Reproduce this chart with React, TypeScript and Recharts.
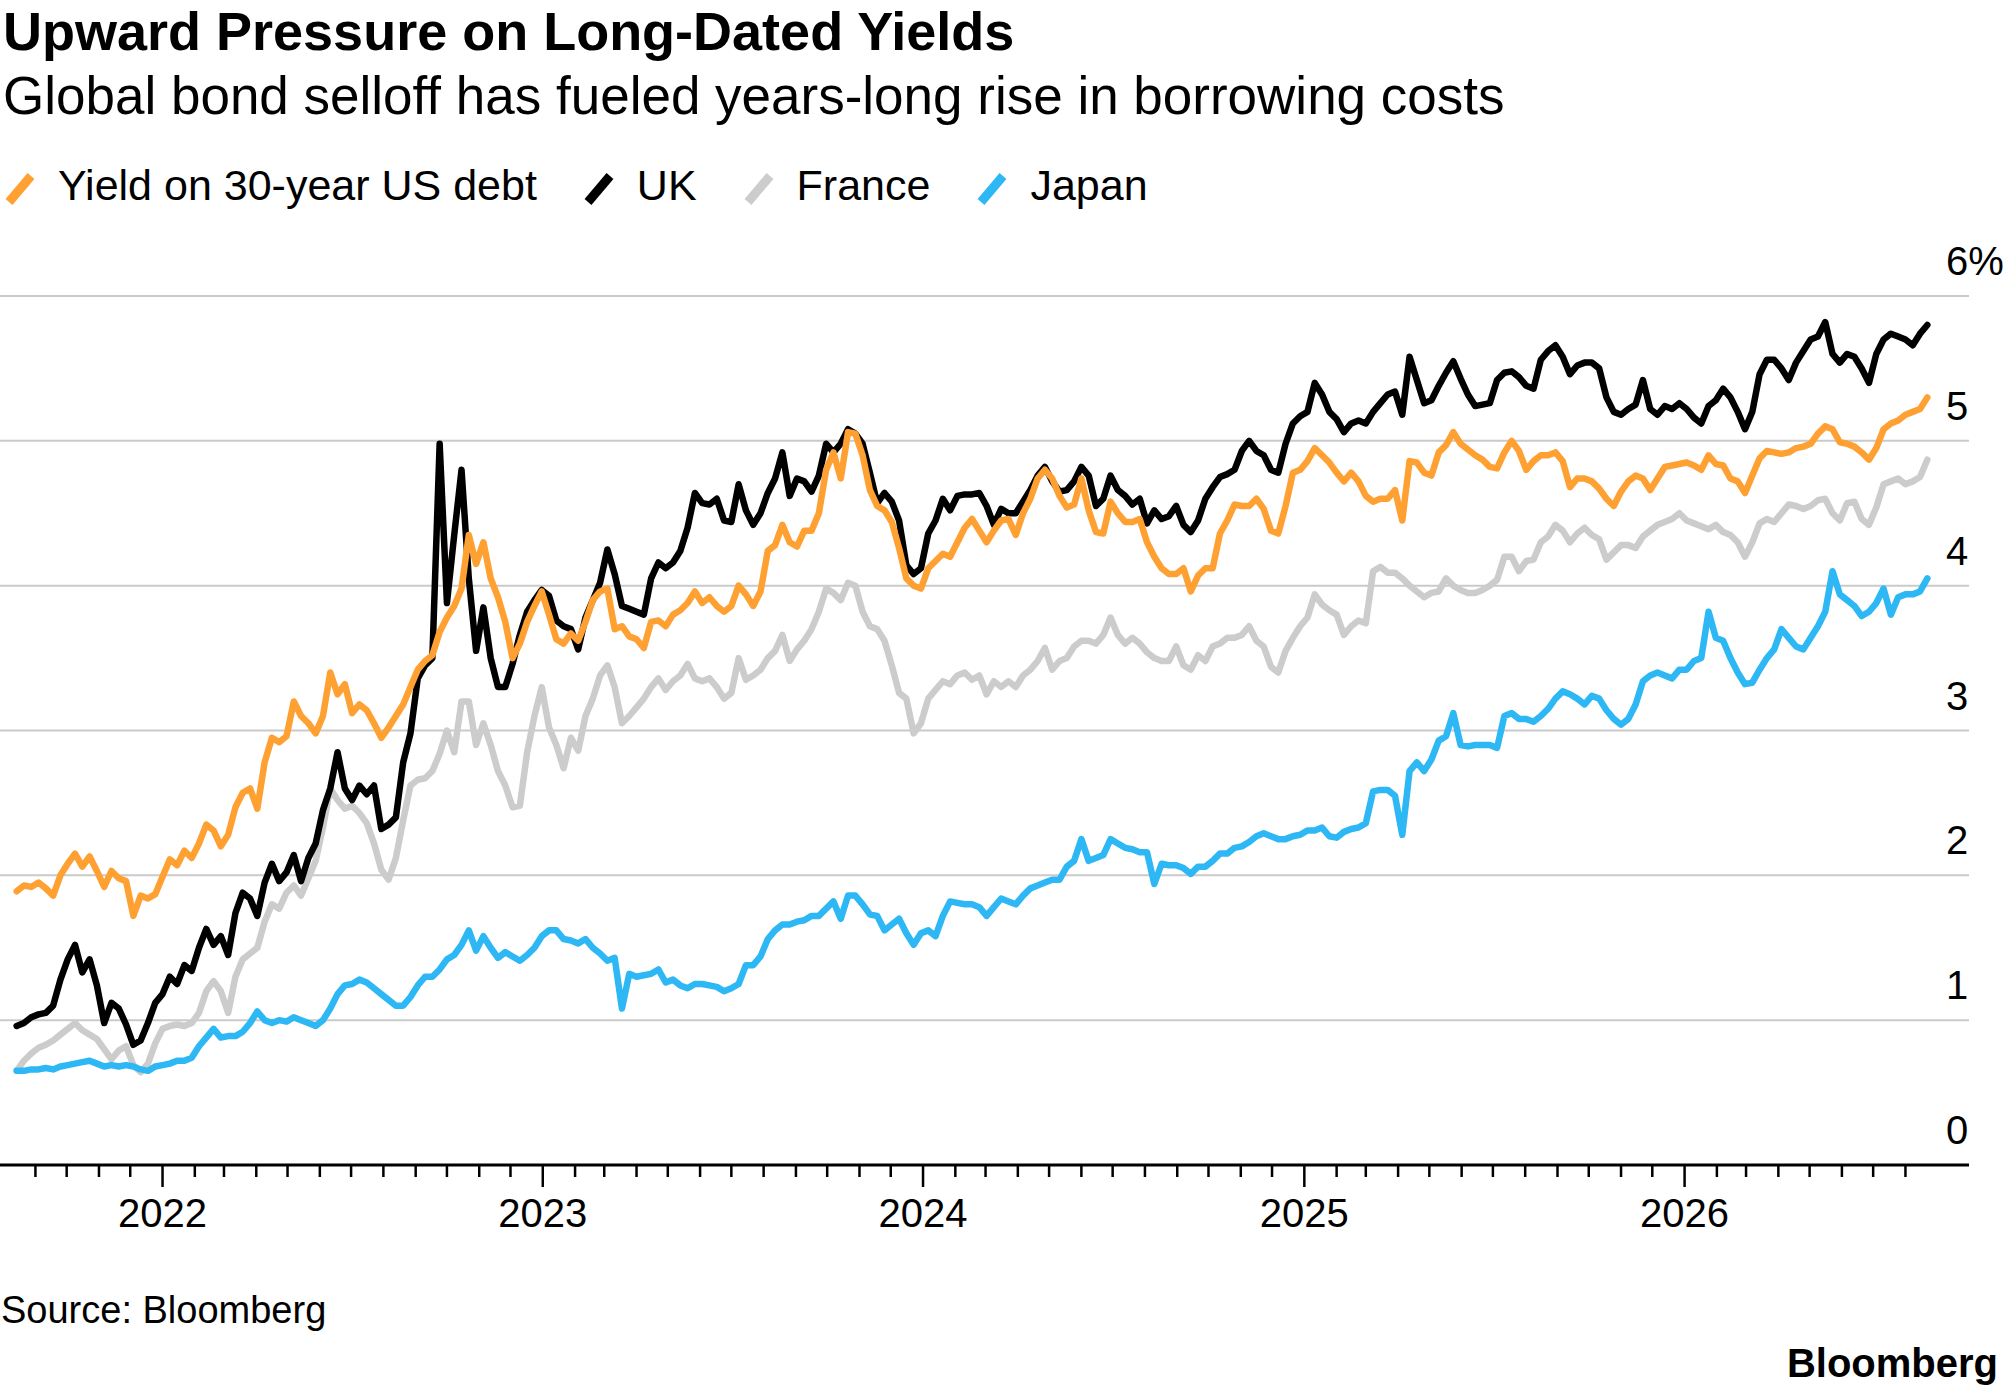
import React from 'react';
import { LineChart, Line, XAxis, YAxis, CartesianGrid } from 'recharts';

const FONT = '"Liberation Sans", Arial, Helvetica, sans-serif';

// weekly readings, the first one dated 2021-08-14
const FIRST_DAY = Date.UTC(2021, 7, 14);
const DAY = 86400000;

const usYield = [
  1.89, 1.93, 1.92, 1.95, 1.91, 1.86, 2.0, 2.08, 2.15, 2.06,
  2.13, 2.03, 1.92, 2.03, 1.98, 1.96, 1.72, 1.86, 1.84, 1.87,
  1.99, 2.11, 2.07, 2.17, 2.12, 2.22, 2.35, 2.31, 2.2, 2.28,
  2.47, 2.57, 2.6, 2.46, 2.78, 2.95, 2.92, 2.96, 3.2, 3.1,
  3.05, 2.98, 3.1, 3.4, 3.25, 3.32, 3.12, 3.18, 3.14, 3.05,
  2.95, 3.02, 3.1, 3.18, 3.3, 3.42, 3.48, 3.52, 3.68, 3.78,
  3.86, 3.98, 4.35, 4.15, 4.3, 4.05, 3.92, 3.75, 3.5, 3.6,
  3.75, 3.86, 3.96, 3.8, 3.63, 3.6, 3.67, 3.62, 3.75, 3.9,
  3.96, 3.98, 3.7, 3.72, 3.65, 3.63, 3.57, 3.75, 3.76, 3.72,
  3.8, 3.83, 3.88, 3.96, 3.88, 3.92, 3.86, 3.82, 3.86, 4.0,
  3.94, 3.86, 3.96, 4.24, 4.28, 4.42, 4.3, 4.27, 4.38, 4.38,
  4.5, 4.8, 4.92, 4.74, 5.06, 5.05, 4.9, 4.66, 4.55, 4.52,
  4.44, 4.26, 4.05, 4.0, 3.98, 4.12, 4.17, 4.22, 4.2, 4.3,
  4.4, 4.46, 4.38, 4.3, 4.38, 4.45, 4.46, 4.35, 4.5, 4.6,
  4.74, 4.8, 4.74, 4.62, 4.54, 4.56, 4.74, 4.52, 4.37, 4.36,
  4.58, 4.5, 4.44, 4.44, 4.46, 4.3, 4.2, 4.12, 4.08, 4.08,
  4.12, 3.96, 4.07, 4.12, 4.12, 4.36, 4.45, 4.56, 4.55, 4.55,
  4.6, 4.53, 4.38, 4.36, 4.55, 4.78, 4.8, 4.86, 4.95, 4.9,
  4.85, 4.78, 4.72, 4.78, 4.72, 4.62, 4.58, 4.6, 4.6, 4.66,
  4.45, 4.86, 4.85, 4.78, 4.76, 4.92, 4.97, 5.06, 4.98, 4.94,
  4.9, 4.87, 4.82, 4.81, 4.92, 5.0, 4.93, 4.8, 4.86, 4.9,
  4.9, 4.92, 4.86, 4.68, 4.74, 4.74, 4.72, 4.67, 4.6, 4.55,
  4.65, 4.72, 4.76, 4.74, 4.66, 4.74, 4.82, 4.83, 4.84, 4.85,
  4.83, 4.8, 4.9, 4.84, 4.83, 4.74, 4.72, 4.64, 4.76, 4.88,
  4.93, 4.92, 4.91, 4.92, 4.95, 4.96, 4.98, 5.05, 5.1, 5.08,
  4.99, 4.98, 4.96, 4.92, 4.87, 4.95, 5.08, 5.12, 5.14, 5.18,
  5.2, 5.22, 5.3,
];

const ukYield = [
  0.96, 0.98, 1.02, 1.04, 1.05, 1.1, 1.28, 1.42, 1.52, 1.33,
  1.42, 1.24, 0.98, 1.12, 1.08, 0.97, 0.83, 0.86, 0.98, 1.12,
  1.18, 1.3, 1.25, 1.38, 1.34, 1.5, 1.63, 1.52, 1.58, 1.45,
  1.74, 1.88, 1.84, 1.72, 1.95, 2.08, 1.96, 2.02, 2.14, 1.96,
  2.12, 2.22, 2.45, 2.6, 2.85, 2.6, 2.52, 2.62, 2.56, 2.62,
  2.32, 2.35, 2.4, 2.78, 2.98, 3.36, 3.45, 3.5, 4.98, 3.88,
  4.35, 4.8, 4.05, 3.55, 3.85, 3.5, 3.3, 3.3, 3.46, 3.66,
  3.82, 3.9, 3.97, 3.93, 3.76, 3.72, 3.7, 3.56, 3.78, 3.9,
  4.02, 4.25, 4.08, 3.86, 3.84, 3.82, 3.8, 4.05, 4.16, 4.12,
  4.16, 4.24, 4.4, 4.64, 4.57, 4.56, 4.6, 4.45, 4.44, 4.7,
  4.52, 4.42, 4.5, 4.64, 4.74, 4.92, 4.62, 4.74, 4.72, 4.65,
  4.76, 4.98, 4.92, 4.98, 5.08, 5.05, 4.98, 4.78, 4.57, 4.64,
  4.58, 4.45, 4.14, 4.08, 4.12, 4.36, 4.45, 4.6, 4.52, 4.62,
  4.63, 4.63, 4.64, 4.55, 4.42, 4.53, 4.5, 4.5, 4.58, 4.66,
  4.76, 4.82, 4.72, 4.65, 4.66, 4.72, 4.82, 4.76, 4.55, 4.6,
  4.76, 4.66, 4.62, 4.56, 4.6, 4.43, 4.52, 4.46, 4.48, 4.55,
  4.42, 4.37, 4.45, 4.6, 4.68, 4.75, 4.77, 4.8, 4.93, 5.0,
  4.93, 4.9, 4.8, 4.78, 4.98, 5.12, 5.17, 5.2, 5.4, 5.32,
  5.2, 5.15, 5.06, 5.12, 5.14, 5.12, 5.2, 5.26, 5.32, 5.34,
  5.18, 5.58, 5.42, 5.26, 5.28, 5.38, 5.47, 5.55, 5.43, 5.32,
  5.24, 5.25, 5.26, 5.42, 5.47, 5.48, 5.44, 5.38, 5.36, 5.56,
  5.62, 5.66, 5.58, 5.46, 5.52, 5.54, 5.54, 5.5, 5.3, 5.2,
  5.18, 5.22, 5.25, 5.42, 5.22, 5.18, 5.24, 5.22, 5.26, 5.22,
  5.16, 5.12, 5.24, 5.28, 5.36, 5.3, 5.2, 5.08, 5.2, 5.46,
  5.56, 5.56, 5.5, 5.42, 5.54, 5.62, 5.7, 5.72, 5.82, 5.6,
  5.54, 5.6, 5.58, 5.5, 5.4, 5.6, 5.7, 5.74, 5.72, 5.7,
  5.66, 5.74, 5.8,
];

const franceYield = [
  0.65, 0.72, 0.77, 0.81, 0.83, 0.86, 0.9, 0.94, 0.98, 0.93,
  0.9, 0.87, 0.8, 0.73, 0.79, 0.82, 0.69, 0.64, 0.7, 0.84,
  0.94, 0.96, 0.97, 0.96, 0.98, 1.05, 1.2, 1.27, 1.2, 1.05,
  1.3, 1.42, 1.46, 1.5, 1.68, 1.8, 1.77, 1.88, 1.93, 1.86,
  1.98, 2.1, 2.33, 2.6, 2.52, 2.46, 2.48, 2.43, 2.36, 2.22,
  2.04, 1.97, 2.12, 2.38, 2.62, 2.66, 2.67, 2.72, 2.84, 3.0,
  2.85, 3.2, 3.2, 2.9, 3.05, 2.9, 2.72, 2.62, 2.47, 2.48,
  2.85, 3.1, 3.3, 3.02, 2.9, 2.74, 2.95, 2.86, 3.1, 3.22,
  3.38, 3.45, 3.3, 3.05, 3.1, 3.16, 3.22, 3.3, 3.36, 3.28,
  3.34, 3.38, 3.46, 3.36, 3.34, 3.36, 3.3, 3.22, 3.26, 3.5,
  3.35, 3.38, 3.42, 3.5, 3.55, 3.66, 3.48, 3.56, 3.62, 3.7,
  3.82, 3.98, 3.95, 3.9, 4.02, 4.0, 3.82, 3.72, 3.7, 3.62,
  3.45, 3.26, 3.22, 2.98, 3.05, 3.22, 3.28, 3.34, 3.32, 3.38,
  3.4, 3.35, 3.38, 3.25, 3.34, 3.3, 3.34, 3.3, 3.38, 3.42,
  3.48, 3.57, 3.42, 3.48, 3.5, 3.58, 3.62, 3.62, 3.6, 3.66,
  3.78, 3.66, 3.6, 3.64, 3.6, 3.54, 3.5, 3.48, 3.48, 3.58,
  3.45, 3.42, 3.52, 3.48, 3.58, 3.6, 3.64, 3.64, 3.66, 3.72,
  3.62, 3.58, 3.44, 3.4, 3.55, 3.64, 3.72, 3.78, 3.94, 3.87,
  3.83, 3.8, 3.66, 3.72, 3.76, 3.74, 4.1, 4.13, 4.09, 4.09,
  4.05, 4.0, 3.96, 3.92, 3.95, 3.96, 4.05, 4.0, 3.97, 3.95,
  3.95, 3.97, 4.0, 4.04, 4.2, 4.2, 4.1, 4.17, 4.18, 4.3,
  4.34, 4.42, 4.38, 4.3, 4.36, 4.4, 4.35, 4.32, 4.18, 4.23,
  4.28, 4.28, 4.26, 4.34, 4.38, 4.42, 4.44, 4.46, 4.5, 4.45,
  4.43, 4.41, 4.39, 4.42, 4.37, 4.35, 4.3, 4.2, 4.3, 4.43,
  4.46, 4.44, 4.5, 4.56, 4.55, 4.53, 4.55, 4.59, 4.6, 4.5,
  4.45, 4.57, 4.58, 4.46, 4.42, 4.54, 4.7, 4.72, 4.74, 4.7,
  4.72, 4.75, 4.87,
];

const japanYield = [
  0.65, 0.65, 0.66, 0.66, 0.67, 0.66, 0.68, 0.69, 0.7, 0.71,
  0.72, 0.7, 0.68, 0.69, 0.68, 0.69, 0.68, 0.66, 0.65, 0.68,
  0.69, 0.7, 0.72, 0.72, 0.74, 0.82, 0.88, 0.94, 0.88, 0.89,
  0.89, 0.92, 0.98, 1.06, 1.0, 0.98, 1.0, 0.99, 1.02, 1.0,
  0.98, 0.96, 1.0, 1.08, 1.18, 1.24, 1.25, 1.28, 1.26, 1.22,
  1.18, 1.14, 1.1, 1.1, 1.16, 1.24, 1.3, 1.3, 1.35, 1.42,
  1.45, 1.52, 1.62, 1.48, 1.58, 1.5, 1.43, 1.47, 1.44, 1.41,
  1.45, 1.5, 1.58, 1.62, 1.62, 1.56, 1.55, 1.53, 1.56, 1.5,
  1.46, 1.41, 1.43, 1.08, 1.32, 1.3, 1.31, 1.32, 1.35, 1.26,
  1.28, 1.24, 1.22, 1.25, 1.25, 1.24, 1.23, 1.2, 1.22, 1.25,
  1.38, 1.38, 1.44, 1.56, 1.62, 1.66, 1.66, 1.68, 1.69, 1.72,
  1.72, 1.77, 1.82, 1.7, 1.86, 1.86, 1.8, 1.73, 1.72, 1.62,
  1.66, 1.7, 1.6, 1.52, 1.6, 1.62, 1.58, 1.72, 1.82, 1.81,
  1.8, 1.8, 1.78, 1.72, 1.78, 1.84, 1.82, 1.8, 1.86, 1.91,
  1.93, 1.95, 1.97, 1.97, 2.06, 2.1, 2.25, 2.1, 2.12, 2.14,
  2.25, 2.22, 2.19, 2.18, 2.16, 2.16, 1.94, 2.08, 2.07, 2.07,
  2.05, 2.01, 2.06, 2.06, 2.1, 2.15, 2.15, 2.19, 2.2, 2.23,
  2.27, 2.29, 2.27, 2.25, 2.25, 2.27, 2.28, 2.31, 2.31, 2.33,
  2.27, 2.26, 2.3, 2.32, 2.33, 2.36, 2.58, 2.59, 2.59, 2.55,
  2.28, 2.72, 2.78, 2.72, 2.8, 2.93, 2.96, 3.12, 2.9, 2.89,
  2.9, 2.9, 2.9, 2.88, 3.1, 3.12, 3.08, 3.08, 3.06, 3.1,
  3.15, 3.22, 3.27, 3.25, 3.22, 3.18, 3.24, 3.22, 3.14, 3.08,
  3.04, 3.08, 3.18, 3.34, 3.38, 3.4, 3.38, 3.36, 3.42, 3.42,
  3.48, 3.5, 3.82, 3.64, 3.62, 3.5, 3.4, 3.32, 3.33, 3.42,
  3.5, 3.56, 3.7, 3.64, 3.58, 3.56, 3.64, 3.72, 3.82, 4.1,
  3.94, 3.9, 3.86, 3.79, 3.82, 3.88, 3.98, 3.8, 3.92, 3.94,
  3.94, 3.96, 4.05,
];

const yearLabels = ['2022', '2023', '2024', '2025', '2026'];
const yTicks = [0, 1, 2, 3, 4, 5, 6];

// legend order; drawing order is separate so US sits on top of UK
const series = [
  { key: 'us', name: 'Yield on 30-year US debt', color: '#ffa033' },
  { key: 'uk', name: 'UK', color: '#000000' },
  { key: 'fr', name: 'France', color: '#cccccc' },
  { key: 'jp', name: 'Japan', color: '#2db8f5' },
];
const drawOrder = ['fr', 'jp', 'uk', 'us'];

const data = usYield.map((v, i) => ({
  t: FIRST_DAY + i * 7 * DAY,
  us: v,
  uk: ukYield[i],
  fr: franceYield[i],
  jp: japanYield[i],
}));

// one tick per month, Sep 2021 .. Aug 2026
const monthTicks: number[] = [];
for (let m = 8; m <= 67; m++) monthTicks.push(Date.UTC(2021, m, 1));

const X_DOMAIN = [Date.UTC(2021, 6, 29), Date.UTC(2026, 9, 1)];

function MonthTick({ x, y, payload }: any) {
  const d = new Date(payload.value);
  const isYear = d.getUTCMonth() === 0;
  const label = yearLabels.find((l) => Number(l) === d.getUTCFullYear());
  return (
    <g>
      <line x1={x} x2={x} y1={y} y2={y + (isYear ? 22 : 12)} stroke="#000" strokeWidth={2.5} />
      {isYear && label && (
        <text x={x} y={y + 62} textAnchor="middle" fontSize={40} fontFamily={FONT} fill="#000">
          {label}
        </text>
      )}
    </g>
  );
}

function ValueTick({ x, y, payload }: any) {
  return (
    <text x={x - 23} y={y - 21} textAnchor="start" fontSize={40} fontFamily={FONT} fill="#000">
      {payload.value}
      {payload.value === 6 ? '%' : ''}
    </text>
  );
}

function Swatch({ color }: { color: string }) {
  return (
    <svg width={30} height={32} style={{ display: 'block' }}>
      <line x1={4} y1={29} x2={26} y2={3} stroke={color} strokeWidth={9} />
    </svg>
  );
}

export default function App() {
  return (
    <div
      style={{
        position: 'absolute',
        left: 0,
        top: 0,
        width: 2005,
        height: 1392,
        background: '#fff',
        overflow: 'hidden',
        fontFamily: FONT,
      }}
    >
      <svg width={2005} height={1392} style={{ position: 'absolute', left: 0, top: 0 }}>
        <text x={3} y={50} fontSize={54} fontWeight={700} fontFamily={FONT} fill="#000">
          Upward Pressure on Long-Dated Yields
        </text>
        <text x={3} y={114} fontSize={53} fontFamily={FONT} fill="#000">
          Global bond selloff has fueled years-long rise in borrowing costs
        </text>
        <text x={1} y={1323} fontSize={38} fontFamily={FONT} fill="#000">
          Source: Bloomberg
        </text>
        <text x={1998} y={1377} textAnchor="end" fontSize={40} fontWeight={700} fontFamily={FONT} fill="#000">
          Bloomberg
        </text>
      </svg>

      <div
        style={{
          position: 'absolute',
          left: 5,
          top: 164,
          display: 'flex',
          alignItems: 'center',
          fontSize: 43,
          lineHeight: '43px',
          color: '#000',
          whiteSpace: 'nowrap',
        }}
      >
        {series.map((s) => (
          <div key={s.key} style={{ display: 'flex', alignItems: 'center', marginRight: 47 }}>
            <div style={{ marginRight: 23, transform: 'translateY(3px)' }}>
              <Swatch color={s.color} />
            </div>
            <span>{s.name}</span>
          </div>
        ))}
      </div>

      <div style={{ position: 'absolute', left: 0, top: 0 }}>
        <LineChart width={2005} height={1392} data={data} margin={{ top: 296, right: 0, bottom: 167, left: 0 }}>
          <CartesianGrid vertical={false} stroke="#cacaca" strokeWidth={2} />
          <XAxis
            dataKey="t"
            type="number"
            domain={X_DOMAIN}
            ticks={monthTicks}
            interval={0}
            height={60}
            tickSize={0}
            tickMargin={0}
            tickLine={false}
            axisLine={{ stroke: '#000', strokeWidth: 3 }}
            tick={<MonthTick />}
          />
          <YAxis
            orientation="right"
            width={36}
            domain={[0, 6]}
            ticks={yTicks}
            interval={0}
            tickSize={0}
            tickMargin={0}
            tickLine={false}
            axisLine={false}
            tick={<ValueTick />}
          />
          {drawOrder.map((k) => {
            const s = series.find((x) => x.key === k)!;
            return (
              <Line
                key={k}
                type="linear"
                dataKey={k}
                name={s.name}
                stroke={s.color}
                strokeWidth={6.5}
                strokeLinejoin="round"
                strokeLinecap="round"
                dot={false}
                isAnimationActive={false}
              />
            );
          })}
        </LineChart>
      </div>
    </div>
  );
}
